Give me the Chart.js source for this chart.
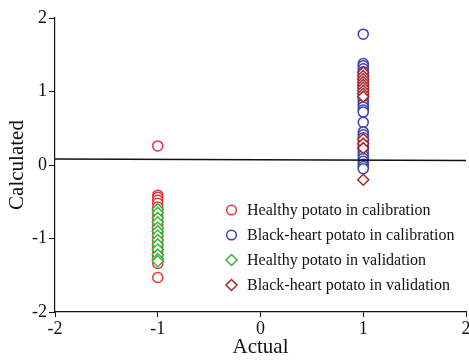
<!DOCTYPE html>
<html>
<head>
<meta charset="utf-8">
<script src="https://cdn.jsdelivr.net/npm/chart.js@4.4.0/dist/chart.umd.min.js"></script>
<style>
  html, body { margin: 0; padding: 0; background: #fff; }
  #wrap { width: 469px; height: 360px; }
</style>
</head>
<body>
<div id="wrap"><canvas id="scatterChart"></canvas></div>
<script>
// data
const xTicks = [-2, -1, 0, 1, 2];
const yTicks = [-2, -1, 0, 1, 2];

const healthyCalX = -1;
const healthyCal = [0.26, -0.41, -0.44, -0.48, -0.52, -0.57, -0.62, -0.67, -0.72, -0.77, -0.82, -0.87,
    -0.92, -0.97, -1.02, -1.07, -1.12, -1.17, -1.22, -1.27, -1.31, -1.34, -1.53];

const blackCalX = 1;
const blackCal = [1.78, 1.38, 1.35, 1.31, 1.27, 1.23, 1.19, 1.15, 1.11, 1.07, 1.03, 0.99, 0.95, 0.91,
    0.87, 0.83, 0.79, 0.75, 0.72, 0.58, 0.45, 0.41, 0.37, 0.33, 0.29, 0.25, 0.21, 0.17, 0.13, 0.09,
    0.05, 0.01, -0.02, -0.05];

const healthyValX = -1;
const healthyVal = [-0.6, -0.65, -0.72, -0.78, -0.85, -0.9, -0.96, -1.02, -1.08, -1.15, -1.22, -1.28, -1.31];

const blackValX = 1;
const blackVal = [1.26, 1.21, 1.17, 1.13, 1.09, 1.05, 1.01, 0.97, 0.93, 0.35, 0.29, 0.23, -0.2];

const fitX = [-2, 2];
const fitY = [0.08, 0.06];

const labels = ['Healthy potato in calibration', 'Black-heart potato in calibration',
    'Healthy potato in validation', 'Black-heart potato in validation'];

const toPoints = (x, ys) => ys.map(y => ({ x: x, y: y }));

const serif = "'Liberation Serif', 'Times New Roman', serif";

// legend drawn inside the plot area
const innerLegend = {
    id: 'innerLegend',
    afterDraw(chart) {
        const ctx = chart.ctx;
        const sets = chart.data.datasets.filter(d => d.inLegend);
        ctx.save();
        ctx.font = '16px ' + serif;
        ctx.textBaseline = 'middle';
        ctx.fillStyle = '#111';
        sets.forEach((d, i) => {
            const y = 210 + i * 25;
            const x = 231.5;
            ctx.strokeStyle = d.borderColor;
            ctx.lineWidth = 1.5;
            ctx.beginPath();
            if (d.pointStyle === 'rectRot') {
                ctx.moveTo(x, y - 5.5);
                ctx.lineTo(x + 5.5, y);
                ctx.lineTo(x, y + 5.5);
                ctx.lineTo(x - 5.5, y);
                ctx.closePath();
            } else {
                ctx.arc(x, y, 4.8, 0, Math.PI * 2);
            }
            ctx.stroke();
            ctx.fillText(d.label, 247, y + 1);
        });
        ctx.restore();
    }
};

const ctx = document.getElementById('scatterChart').getContext('2d');
new Chart(ctx, {
    type: 'scatter',
    data: {
        datasets: [{
            type: 'line',
            label: 'fit',
            data: fitX.map((x, i) => ({ x: x, y: fitY[i] })),
            borderColor: '#111',
            borderWidth: 1.5,
            pointRadius: 0,
            fill: false,
            order: 0
        }, {
            label: labels[0],
            inLegend: true,
            data: toPoints(healthyCalX, healthyCal),
            borderColor: '#e8343a',
            backgroundColor: '#fff',
            pointStyle: 'circle',
            pointRadius: 5,
            pointBorderWidth: 1.5,
            order: 2
        }, {
            label: labels[1],
            inLegend: true,
            data: toPoints(blackCalX, blackCal),
            borderColor: '#3a40b2',
            backgroundColor: '#fff',
            pointStyle: 'circle',
            pointRadius: 5,
            pointBorderWidth: 1.5,
            order: 2
        }, {
            label: labels[2],
            inLegend: true,
            data: toPoints(healthyValX, healthyVal),
            borderColor: '#38b83a',
            backgroundColor: '#fff',
            pointStyle: 'rectRot',
            pointRadius: 5.5,
            pointBorderWidth: 1.5,
            order: 1
        }, {
            label: labels[3],
            inLegend: true,
            data: toPoints(blackValX, blackVal),
            borderColor: '#a8282a',
            backgroundColor: '#fff',
            pointStyle: 'rectRot',
            pointRadius: 5.5,
            pointBorderWidth: 1.5,
            order: 1
        }]
    },
    options: {
        responsive: true,
        maintainAspectRatio: false,
        animation: false,
        layout: {
            autoPadding: false,
            padding: { top: 18, right: 0, left: 0, bottom: 0 }
        },
        plugins: {
            legend: { display: false },
            tooltip: { enabled: false }
        },
        scales: {
            x: {
                type: 'linear',
                min: -2,
                max: 2,
                afterFit: (scale) => {
                    scale.height = 48;
                    scale.paddingRight = 3; // let the last label run to the edge, as in the original
                },
                afterBuildTicks: (scale) => { scale.ticks = xTicks.map(v => ({ value: v })); },
                grid: { drawOnChartArea: false, tickLength: 5, color: '#111' },
                border: { color: '#111', width: 1.2 },
                ticks: { color: '#111', padding: 1, font: { family: serif, size: 18 } },
                title: {
                    display: true,
                    text: 'Actual',
                    color: '#111',
                    padding: 0,
                    font: { family: serif, size: 21 }
                }
            },
            y: {
                type: 'linear',
                min: -2,
                max: 2,
                afterFit: (scale) => { scale.width = 55; },
                afterBuildTicks: (scale) => { scale.ticks = yTicks.map(v => ({ value: v })); },
                grid: { drawOnChartArea: false, tickLength: 6, color: '#111' },
                border: { color: '#111', width: 1.2 },
                ticks: { color: '#111', padding: 2, font: { family: serif, size: 18 } },
                title: {
                    display: true,
                    text: 'Calculated',
                    color: '#111',
                    padding: { top: 5, bottom: 0 },
                    font: { family: serif, size: 21 }
                }
            }
        }
    },
    plugins: [innerLegend]
});
</script>
</body>
</html>
